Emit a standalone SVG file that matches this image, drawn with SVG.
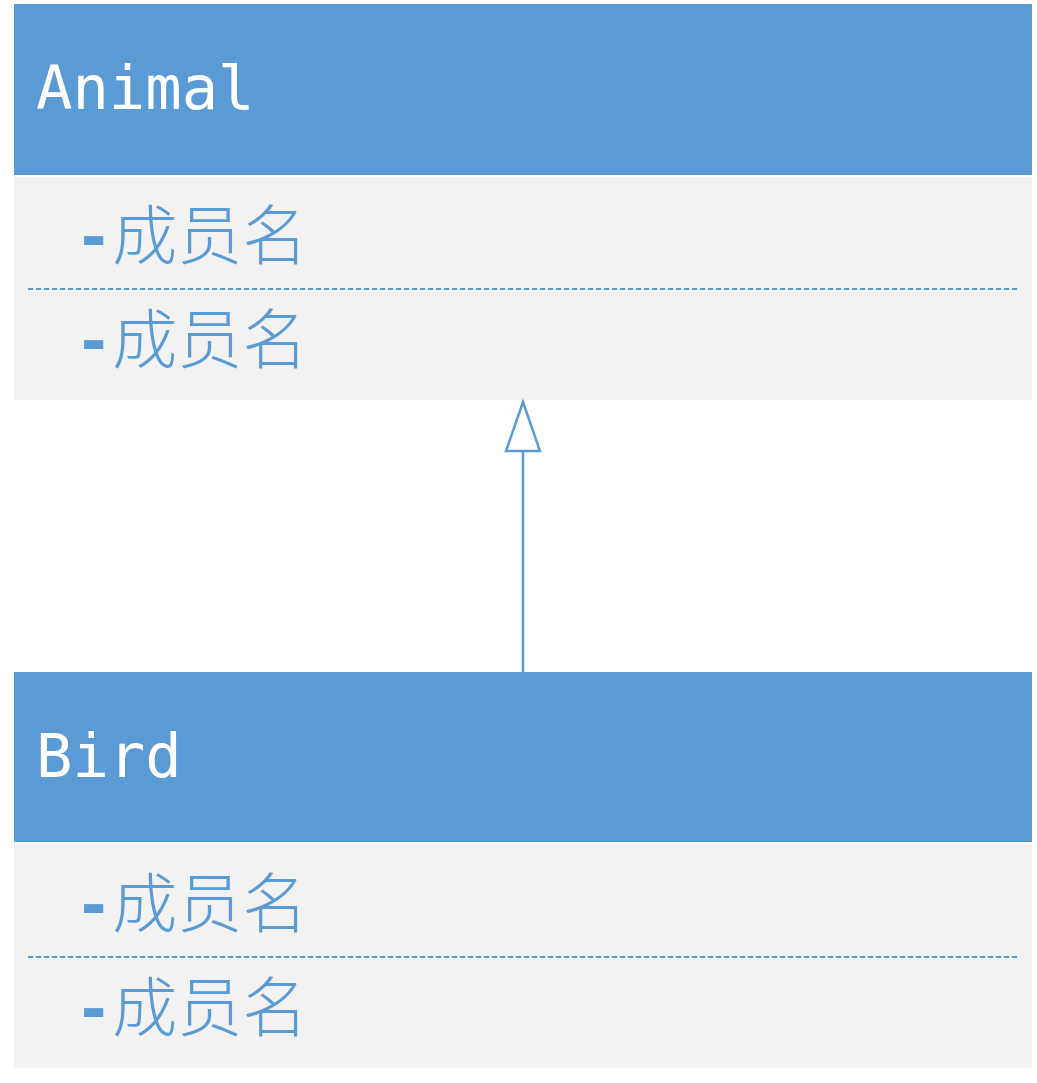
<svg xmlns="http://www.w3.org/2000/svg" width="1037" height="1083" viewBox="0 0 1037 1083">
<style>
.hdr{fill:#5B9BD5}
.body{fill:#F2F2F2}
.title{font-family:"DejaVu Sans Mono","Liberation Mono",monospace;font-size:60.5px;fill:#FFFFFF}
.mem{font-family:"Noto Sans CJK SC","Noto Sans CJK JP",sans-serif;font-size:65px;fill:#5B9BD5;font-weight:300}
.dash{font-family:"DejaVu Sans Mono","Liberation Mono",monospace;font-size:62px;font-weight:600}
.sep{stroke:#5B9BD5;stroke-width:2;stroke-dasharray:5 3;fill:none}
.conn{stroke:#5B9BD5;stroke-width:2.5;fill:none}
</style>
<rect width="1037" height="1083" fill="#FFFFFF"/>
<g id="Animal">
<rect class="hdr" x="14" y="4" width="1018" height="171"/>
<rect class="body" x="14" y="177" width="1018" height="223"/>
<text class="title" x="36" y="109">Animal</text>
<text class="mem" x="75" y="259"><tspan class="dash">-</tspan>成员名</text>
<line class="sep" x1="28" y1="289" x2="1017" y2="289"/>
<text class="mem" x="75" y="363"><tspan class="dash">-</tspan>成员名</text>
</g>
<g id="Bird">
<rect class="hdr" x="14" y="672" width="1018" height="170"/>
<rect class="body" x="14" y="844" width="1018" height="224"/>
<text class="title" x="36" y="777">Bird</text>
<text class="mem" x="75" y="927"><tspan class="dash">-</tspan>成员名</text>
<line class="sep" x1="28" y1="957" x2="1017" y2="957"/>
<text class="mem" x="75" y="1031"><tspan class="dash">-</tspan>成员名</text>
</g>
<g id="connectors">
<line class="conn" x1="523" y1="672" x2="523" y2="451"/>
<path d="M523,402 L540,451 L506,451 Z" fill="#FFFFFF" stroke="#5B9BD5" stroke-width="2.5"/>
</g>
</svg>
